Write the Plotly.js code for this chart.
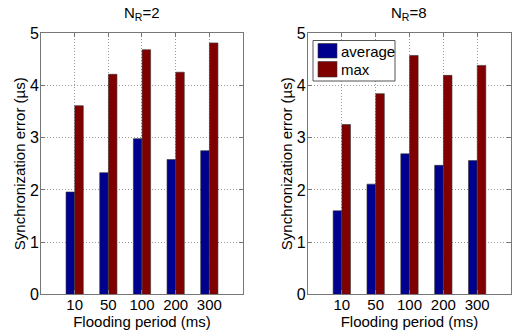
<!DOCTYPE html>
<html>
<head>
<meta charset="utf-8">
<script src="https://cdn.plot.ly/plotly-3.0.1.min.js"></script>
<style>html,body{margin:0;padding:0;background:#fff;}#chart{width:515px;height:332px;}</style>
</head>
<body>
<div id="chart"></div>
<script>
// Data
const periods = ["10", "50", "100", "200", "300"];
const avgNR2 = [1.96, 2.33, 2.98, 2.58, 2.75];
const maxNR2 = [3.61, 4.21, 4.68, 4.25, 4.81];
const avgNR8 = [1.60, 2.11, 2.69, 2.47, 2.56];
const maxNR8 = [3.25, 3.84, 4.57, 4.19, 4.38];
const panelTitles = ["N<sub>R</sub>=2", "N<sub>R</sub>=8"];
const seriesNames = ["average", "max"];
const yTitle = "Synchronization error (µs)";
const xTitle = "Flooding period (ms)";

const blue = "#00008F";
const red = "#800000";
const font = "Liberation Sans, Arial, sans-serif";

function bar(x, y, name, color, xa, ya) {
  return {type: "bar", x: x, y: y, name: name, xaxis: xa, yaxis: ya,
    marker: {color: color, line: {color: "#333", width: 0.6}},
    showlegend: false, hoverinfo: "skip"};
}

const traces = [
  bar(periods, avgNR2, seriesNames[0], blue, "x", "y"),
  bar(periods, maxNR2, seriesNames[1], red, "x", "y"),
  bar(periods, avgNR8, seriesNames[0], blue, "x2", "y2"),
  bar(periods, maxNR8, seriesNames[1], red, "x2", "y2")
];

function xax(domain, anchor) {
  return {domain: domain, anchor: anchor, type: "category", range: [-1, 5],
    showline: true, linecolor: "#777", linewidth: 1, mirror: "ticks",
    ticks: "inside", ticklen: 4, tickcolor: "#777",
    showgrid: true, gridcolor: "#999", griddash: "1px,2px", gridwidth: 1,
    tickfont: {family: font, size: 15, color: "#000"}, ticklabelstandoff: -3,
    title: {text: xTitle, font: {family: font, size: 15, color: "#000"}, standoff: 0},
    zeroline: false, automargin: false, fixedrange: true};
}
function yax(anchor) {
  return {domain: [0.113, 0.9006], anchor: anchor, range: [0, 5], dtick: 1,
    showline: true, linecolor: "#777", linewidth: 1, mirror: "ticks",
    ticks: "inside", ticklen: 4, tickcolor: "#777",
    showgrid: true, gridcolor: "#999", griddash: "1px,2px", gridwidth: 1,
    tickfont: {family: font, size: 16, color: "#000"}, ticklabelstandoff: -2,
    title: {text: yTitle, font: {family: font, size: 15, color: "#000"}, standoff: 0},
    zeroline: false, automargin: false, fixedrange: true};
}

// Legend box (right panel), paper coordinates from pixels
const W = 515, H = 332;
const px = v => v / W, py = v => 1 - v / H;
const shapes = [
  {type: "rect", xref: "paper", yref: "paper", x0: px(313), x1: px(395), y0: py(81), y1: py(40.5),
   fillcolor: "#fff", line: {color: "#555", width: 1}, layer: "above"},
  {type: "rect", xref: "paper", yref: "paper", x0: px(318), x1: px(337), y0: py(58), y1: py(43.5),
   fillcolor: blue, line: {color: "#333", width: 0.6}, layer: "above"},
  {type: "rect", xref: "paper", yref: "paper", x0: px(318), x1: px(337), y0: py(77), y1: py(61.5),
   fillcolor: red, line: {color: "#333", width: 0.6}, layer: "above"}
];

const layout = {
  width: W, height: H,
  margin: {l: 0, r: 0, t: 0, b: 0},
  paper_bgcolor: "#fff", plot_bgcolor: "#fff",
  barmode: "group", bargap: 0.48, bargroupgap: 0.03,
  font: {family: font, size: 14, color: "#000"},
  xaxis: xax([0.0796, 0.4718], "y"),
  yaxis: yax("x"),
  xaxis2: xax([0.598, 0.9922], "y2"),
  yaxis2: yax("x2"),
  showlegend: false,
  shapes: shapes,
  annotations: [
    {text: panelTitles[0], xref: "paper", yref: "paper", x: 0.2757, y: py(13),
     xanchor: "center", yanchor: "middle", showarrow: false, font: {family: font, size: 15}},
    {text: panelTitles[1], xref: "paper", yref: "paper", x: 0.795, y: py(13),
     xanchor: "center", yanchor: "middle", showarrow: false, font: {family: font, size: 15}},
    {text: seriesNames[0], xref: "paper", yref: "paper", x: px(338.5), y: py(51),
     xanchor: "left", yanchor: "middle", showarrow: false, font: {family: font, size: 15}},
    {text: seriesNames[1], xref: "paper", yref: "paper", x: px(338.5), y: py(69.5),
     xanchor: "left", yanchor: "middle", showarrow: false, font: {family: font, size: 15}}
  ]
};

Plotly.newPlot("chart", traces, layout, {displayModeBar: false, staticPlot: true});
</script>
</body>
</html>
